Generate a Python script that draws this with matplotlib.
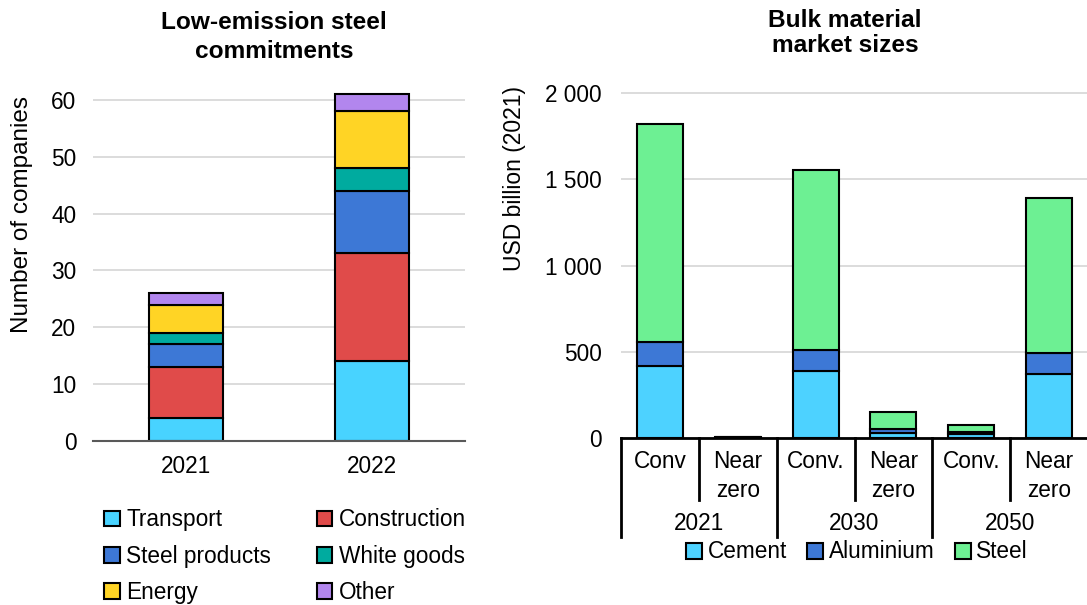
import matplotlib
matplotlib.use("Agg")
import matplotlib.pyplot as plt
import matplotlib.transforms as mtransforms
from matplotlib.ticker import FuncFormatter
from matplotlib.patches import Patch

plt.rcParams['font.family'] = ['Liberation Sans', 'DejaVu Sans']

# ---- Left chart data ----
years_left = ["2021", "2022"]
transport = [4, 14]
construction = [9, 19]
steel_products = [4, 11]
white_goods = [2, 4]
energy = [5, 10]
other = [2, 3]

# ---- Right chart data ----
sub_labels = ["Conv", "Near\nzero", "Conv.", "Near\nzero", "Conv.", "Near\nzero"]
group_labels = ["2021", "2030", "2050"]
cement = [417, 2, 388, 30, 21, 371]
aluminium = [139, 1, 122, 20, 16, 122]
steel = [1264, 2, 1043, 99, 40, 898]

C_TRANS = "#48D3FF"
C_CONS = "#E04B4A"
C_STP = "#3D78D6"
C_WG = "#00AB9F"
C_EN = "#FFD425"
C_OTH = "#B286EE"
C_CEM = "#4DD2FF"
C_ALU = "#3D78D6"
C_STL = "#6DF093"

W, H = 1087, 605
fig = plt.figure(figsize=(W / 100, H / 100), dpi=100)

FS = 16.3

# ---------- Left axes ----------
axL = fig.add_axes([93 / W, 1 - 441 / H, 372 / W, (441 - 88.6) / H])
series_left = [("Transport", transport, C_TRANS), ("Construction", construction, C_CONS),
               ("Steel products", steel_products, C_STP), ("White goods", white_goods, C_WG),
               ("Energy", energy, C_EN), ("Other", other, C_OTH)]
xL = list(range(len(years_left)))
bottom = [0] * len(years_left)
handlesL = {}
for name, vals, col in series_left:
    axL.bar(xL, vals, bottom=bottom, width=0.4, color=col, edgecolor="black", linewidth=1.5, zorder=3)
    bottom = [b + v for b, v in zip(bottom, vals)]
    handlesL[name] = Patch(facecolor=col, edgecolor="black", linewidth=1.5)
axL.set_xlim(-0.5, 1.5)
axL.set_ylim(0, 62)
axL.set_yticks(range(0, 61, 10))
axL.set_xticks(xL)
axL.set_xticklabels(years_left)
axL.tick_params(axis='both', length=0, labelsize=FS)
axL.tick_params(axis='x', pad=10)
axL.tick_params(axis='y', pad=12)
axL.grid(axis='y', color="#D9D9D9", linewidth=1.3, zorder=0)
for s in ["top", "right", "left"]:
    axL.spines[s].set_visible(False)
axL.spines["bottom"].set_color("#595959")
axL.spines["bottom"].set_linewidth(1.5)
axL.spines["bottom"].set_zorder(4)

fig.text(22 / W, 1 - 215 / H, "Number of companies", rotation=90, ha="center", va="center", fontsize=17.5)
fig.text(274 / W, 1 - 37 / H, "Low-emission steel\ncommitments", ha="center", va="center",
         fontsize=17.6, fontweight="bold", linespacing=1.3)

order = ["Transport", "Steel products", "Energy", "Construction", "White goods", "Other"]
fig.legend([handlesL[n] for n in order], order, loc="center", bbox_to_anchor=(285 / W, 1 - 556 / H),
           ncol=2, frameon=False, fontsize=FS, handlelength=0.7, handleheight=0.7,
           handletextpad=0.3, columnspacing=2.0, labelspacing=0.58)

# ---------- Right axes ----------
axR = fig.add_axes([621 / W, 1 - 438 / H, 467 / W, (438 - 84.4) / H])
xR = list(range(len(sub_labels)))
b = [0] * len(xR)
handlesR = []
namesR = []
for name, vals, col in [("Cement", cement, C_CEM), ("Aluminium", aluminium, C_ALU), ("Steel", steel, C_STL)]:
    axR.bar(xR, vals, bottom=b, width=0.59, color=col, edgecolor="black", linewidth=1.5, zorder=3)
    b = [p + v for p, v in zip(b, vals)]
    handlesR.append(Patch(facecolor=col, edgecolor="black", linewidth=1.5))
    namesR.append(name)
axR.set_xlim(-0.5, 5.5)
axR.set_ylim(0, 2050)
axR.set_yticks([0, 500, 1000, 1500, 2000])
axR.yaxis.set_major_formatter(FuncFormatter(lambda v, p: f"{int(v):,}".replace(",", " ")))
axR.set_xticks([])
axR.tick_params(axis='both', length=0, labelsize=FS)
axR.tick_params(axis='y', pad=14)
axR.grid(axis='y', color="#D9D9D9", linewidth=1.3, zorder=0)
for s in ["top", "right", "left"]:
    axR.spines[s].set_visible(False)
axR.spines["bottom"].set_color("black")
axR.spines["bottom"].set_linewidth(2)
axR.spines["bottom"].set_zorder(4)

axh = (438 - 84.4)
def ay(ypix):
    return (438 - ypix) / axh

trans = mtransforms.blended_transform_factory(axR.transData, axR.transAxes)
for i, lab in enumerate(sub_labels):
    axR.text(i, ay(450), lab, transform=trans, ha="center", va="top", fontsize=FS,
             linespacing=1.35, clip_on=False)
for gi, lab in enumerate(group_labels):
    axR.text(2 * gi + 0.5, ay(523), lab, transform=trans, ha="center", va="center", fontsize=FS,
             clip_on=False)
for xb in [0.5, 2.5, 4.5]:
    axR.plot([xb, xb], [0, ay(500)], transform=trans, color="black", lw=2, clip_on=False)
for xb in [-0.5, 1.5, 3.5, 5.5]:
    axR.plot([xb, xb], [0, ay(537)], transform=trans, color="black", lw=2, clip_on=False)

fig.text(515 / W, 1 - 179 / H, "USD billion (2021)", rotation=90, ha="center", va="center", fontsize=16.5)
fig.text(845 / W, 1 - 33 / H, "Bulk material\nmarket sizes", ha="center", va="center",
         fontsize=17.6, fontweight="bold", linespacing=1.15)

fig.legend(handlesR, namesR, loc="center", bbox_to_anchor=(857 / W, 1 - 552 / H), ncol=3,
           frameon=False, fontsize=FS, handlelength=0.7, handleheight=0.7, handletextpad=0.25,
           columnspacing=0.9, borderpad=0.1)

fig.savefig("out.png", dpi=100)
